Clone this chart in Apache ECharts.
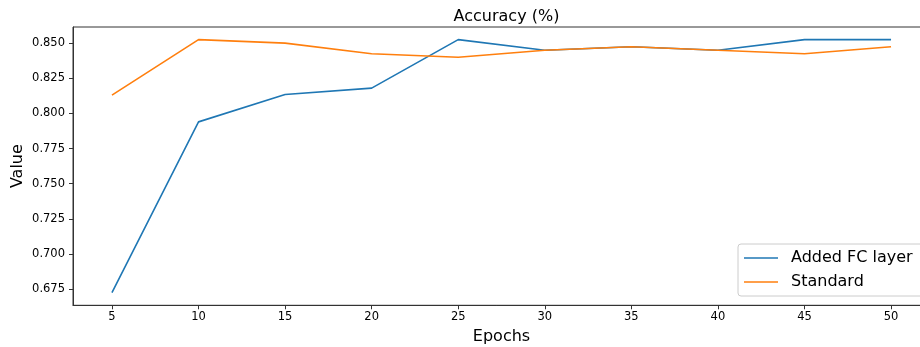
<!DOCTYPE html>
<html>
<head>
<meta charset="utf-8">
<script src="https://cdn.jsdelivr.net/npm/echarts@6/dist/echarts.min.js"></script>
<style>
  html, body { margin: 0; padding: 0; background: #fff; }
  #chart { width: 920px; height: 347px; }
</style>
</head>
<body>
<div id="chart"></div>
<script>
// Accuracy per evaluation epoch for two model variants
const epochs = [5, 10, 15, 20, 25, 30, 35, 40, 45, 50];
const addedFcLayer = [0.6725, 0.794, 0.8135, 0.818, 0.8525, 0.845, 0.8475, 0.845, 0.8525, 0.8525];
const standard = [0.813, 0.8525, 0.85, 0.8425, 0.84, 0.845, 0.8475, 0.845, 0.8425, 0.8475];

const xTicks = [5, 10, 15, 20, 25, 30, 35, 40, 45, 50];
const yTicks = [0.675, 0.700, 0.725, 0.750, 0.775, 0.800, 0.825, 0.850];

const FONT = 'DejaVu Sans';
const AXIS_COLOR = '#333333';
const BLUE = '#1f77b4';
const ORANGE = '#ff7f0e';

// 5% padding around the data range on both axes
const xPad = (epochs[epochs.length - 1] - epochs[0]) * 0.05;
const allY = addedFcLayer.concat(standard);
const yLo = Math.min(...allY), yHi = Math.max(...allY);
const yPad = (yHi - yLo) * 0.05;

const chart = echarts.init(document.getElementById('chart'), null, { renderer: 'canvas' });

chart.setOption({
  animation: false,
  backgroundColor: '#ffffff',
  title: {
    text: 'Accuracy (%)',
    left: 501.5,
    textAlign: 'center',
    top: 4,
    textStyle: { fontFamily: FONT, fontSize: 16, fontWeight: 'normal', color: '#000' }
  },
  grid: {
    left: 73,
    top: 27,
    width: 857,
    bottom: 41.7,
    show: true,
    borderColor: AXIS_COLOR,
    borderWidth: 1,
    backgroundColor: 'transparent',
    containLabel: false,
    outerBoundsMode: 'none'
  },
  legend: {
    data: [
      { name: 'Added FC layer', icon: 'rect', itemStyle: { color: BLUE } },
      { name: 'Standard', icon: 'rect', itemStyle: { color: ORANGE } }
    ],
    orient: 'vertical',
    left: 738,
    top: 244,
    padding: [6, 30, 6, 6],
    itemGap: 8,
    itemWidth: 34,
    itemHeight: 1.6,
    backgroundColor: 'rgba(255,255,255,0.8)',
    borderColor: '#cccccc',
    borderWidth: 1,
    borderRadius: 3,
    textStyle: { fontFamily: FONT, fontSize: 16, lineHeight: 16, color: '#000', padding: [0, 0, 0, 8] }
  },
  xAxis: {
    type: 'value',
    min: epochs[0] - xPad,
    max: epochs[epochs.length - 1] + xPad,
    name: 'Epochs',
    nameLocation: 'middle',
    nameGap: 24,
    nameMoveOverlap: false,
    nameTextStyle: { fontFamily: FONT, fontSize: 16, color: '#000' },
    axisLine: { show: true, onZero: false, lineStyle: { color: AXIS_COLOR, width: 1 } },
    axisTick: { show: true, inside: false, length: 4, customValues: xTicks, lineStyle: { color: AXIS_COLOR } },
    axisLabel: {
      customValues: xTicks,
      margin: 6,
      fontFamily: FONT, fontSize: 11.5, color: '#000'
    },
    splitLine: { show: false }
  },
  yAxis: {
    type: 'value',
    min: yLo - yPad,
    max: yHi + yPad,
    name: 'Value',
    nameLocation: 'middle',
    nameGap: 47,
    nameRotate: 90,
    nameMoveOverlap: false,
    nameTextStyle: { fontFamily: FONT, fontSize: 16, color: '#000' },
    axisLine: { show: true, onZero: false, lineStyle: { color: AXIS_COLOR, width: 1 } },
    axisTick: { show: true, inside: false, length: 4, customValues: yTicks, lineStyle: { color: AXIS_COLOR } },
    axisLabel: {
      customValues: yTicks,
      margin: 8,
      fontFamily: FONT, fontSize: 11.5, color: '#000',
      formatter: v => v.toFixed(3)
    },
    splitLine: { show: false }
  },
  series: [
    {
      name: 'Added FC layer',
      type: 'line',
      data: epochs.map((e, i) => [e, addedFcLayer[i]]),
      symbol: 'none',
      lineStyle: { color: BLUE, width: 1.6 },
      itemStyle: { color: BLUE },
      z: 2
    },
    {
      name: 'Standard',
      type: 'line',
      data: epochs.map((e, i) => [e, standard[i]]),
      symbol: 'none',
      lineStyle: { color: ORANGE, width: 1.6 },
      itemStyle: { color: ORANGE },
      z: 3
    }
  ]
});
</script>
</body>
</html>
